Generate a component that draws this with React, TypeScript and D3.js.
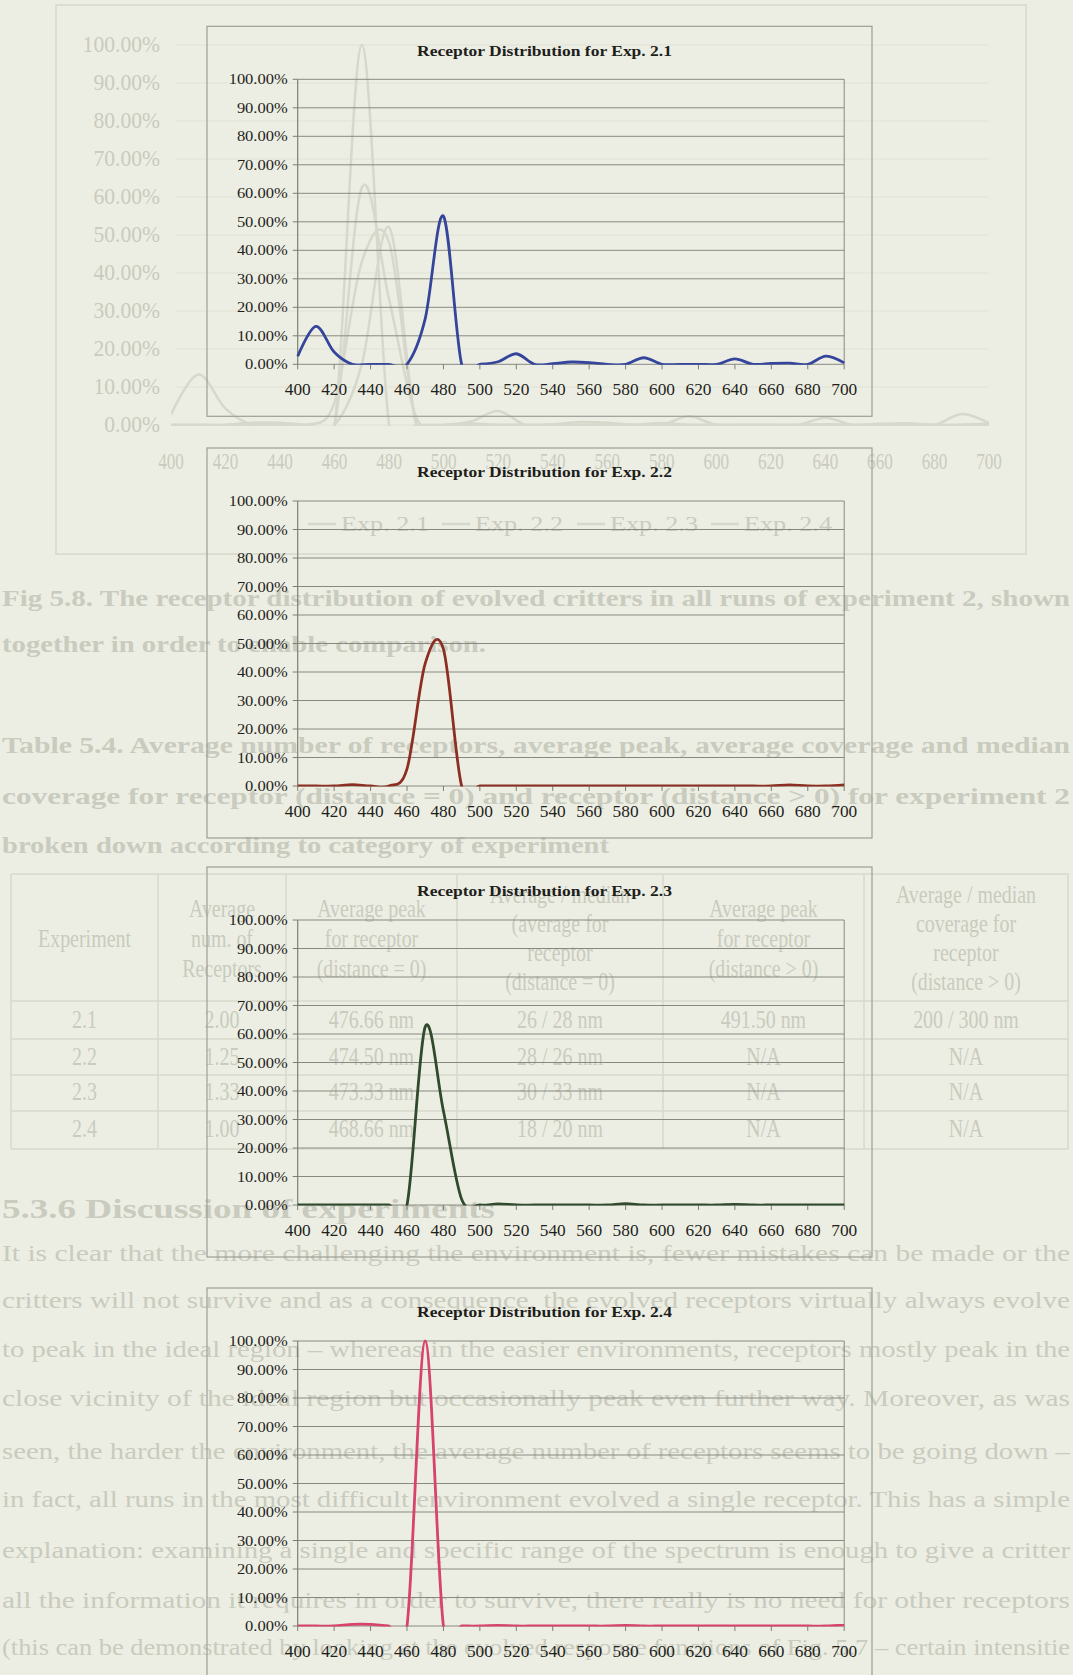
import React from 'react';
import * as d3 from 'd3';

// ---------------- DATA ----------------
const wavelengths = [400, 410, 420, 430, 440, 450, 460, 470, 480, 490, 500, 510, 520, 530, 540, 550, 560, 570, 580, 590, 600, 610, 620, 630, 640, 650, 660, 670, 680, 690, 700];
const exp21 = [2.8, 13.3, 4.3, 0, 0, 0, 0, 16, 52, 0, 0, 0.9, 3.7, 0, 0.2, 0.8, 0.6, 0, 0, 2.3, 0, 0, 0, 0, 1.9, 0, 0.3, 0.4, 0, 2.9, 0.5];
const exp22 = [0, 0, 0, 0.5, 0, 0, 6, 43, 48, 0, 0, 0, 0, 0, 0, 0, 0, 0, 0, 0, 0, 0, 0, 0, 0, 0, 0, 0.4, 0, 0, 0.4];
const exp23 = [0, 0, 0, 0, 0, 0, 0, 62.5, 33, 2, 0, 0.4, 0, 0, 0, 0, 0, 0, 0.5, 0, 0, 0, 0, 0, 0.2, 0, 0, 0, 0, 0, 0];
const exp24 = [0, 0, 0, 0.6, 0.6, 0, 0, 100, 0, 0, 0, 0.2, 0, 0, 0, 0, 0, 0, 0.2, 0, 0, 0, 0, 0, 0, 0, 0, 0, 0, 0, 0.3];
const seriesNames = ['Exp. 2.1', 'Exp. 2.2', 'Exp. 2.3', 'Exp. 2.4'];
const seriesValues = [exp21, exp22, exp23, exp24];
const chartTitles = seriesNames.map((n) => `Receptor Distribution for ${n}`);
const yTickValues = [0, 10, 20, 30, 40, 50, 60, 70, 80, 90, 100];
const xTickValues = [400, 420, 440, 460, 480, 500, 520, 540, 560, 580, 600, 620, 640, 660, 680, 700];

// ghost (bleed-through) text of the scanned page
const captionLines = [
  'Fig 5.8. The receptor distribution of evolved critters in all runs of experiment 2, shown',
  'together in order to enable comparison.',
];
const tableCaptionLines = [
  'Table 5.4. Average number of receptors, average peak, average coverage and median',
  'coverage for receptor (distance = 0) and receptor (distance > 0) for experiment 2',
  'broken down according to category of experiment',
];
const tableHeaders = [
  ['Experiment'],
  ['Average', 'num. of', 'Receptors'],
  ['Average peak', 'for receptor', '(distance = 0)'],
  ['Average / median', '(average for', 'receptor', '(distance = 0)'],
  ['Average peak', 'for receptor', '(distance > 0)'],
  ['Average / median', 'coverage for', 'receptor', '(distance > 0)'],
];
const tableRows = [
  ['2.1', '2.00', '476.66 nm', '26 / 28 nm', '491.50 nm', '200 / 300 nm'],
  ['2.2', '1.25', '474.50 nm', '28 / 26 nm', 'N/A', 'N/A'],
  ['2.3', '1.33', '473.33 nm', '30 / 33 nm', 'N/A', 'N/A'],
  ['2.4', '1.00', '468.66 nm', '18 / 20 nm', 'N/A', 'N/A'],
];
const sectionHeading = '5.3.6 Discussion of experiments';
const paragraphLines = [
  'It is clear that the more challenging the environment is, fewer mistakes can be made or the',
  'critters will not survive and as a consequence, the evolved receptors virtually always evolve',
  'to peak in the ideal region \u2013 whereas in the easier environments, receptors mostly peak in the',
  'close vicinity of the ideal region but occasionally peak even further way. Moreover, as was',
  'seen, the harder the environment, the average number of receptors seems to be going down \u2013',
  'in fact, all runs in the most difficult environment evolved a single receptor. This has a simple',
  'explanation: examining a single and specific range of the spectrum is enough to give a critter',
  'all the information it requires in order to survive, there really is no need for other receptors',
  '(this can be demonstrated by looking at the evolved response functions of Fig. 5.7 \u2013 certain intensitie',
];

// ---------------- STYLE / LAYOUT ----------------
const W = 1073;
const H = 1675;
const PAGE_BG = '#edeee3';
const GHOST_LINE = '#d6d8cc';
const GHOST_TEXT = '#c8cbbe';
const seriesColors = ['#35459b', '#8c2f22', '#2f4a2c', '#d8436d'];
const chartTops = [79.3, 501, 920, 1341];
const PLOT_H = 285;
const PLOT_L = 297.7;
const PLOT_R = 844.2;
const FRAME_L = 207;
const FRAME_R = 872;
const FONT = "'Liberation Serif', 'Times New Roman', serif";

const curve = d3.curveCatmullRom.alpha(0);

function ReceptorChart({ idx }: { idx: number }) {
  const top = chartTops[idx];
  const bottom = top + PLOT_H;
  const x = d3.scaleLinear().domain([400, 700]).range([PLOT_L, PLOT_R]);
  const y = d3.scaleLinear().domain([0, 100]).range([bottom, top]);
  const values = seriesValues[idx];
  const pts: [number, number][] = wavelengths.map((w, i) => [w, values[i]]);
  const line = d3
    .line<[number, number]>()
    .x((d) => x(d[0]))
    .y((d) => y(d[1]))
    .curve(curve);
  const clipId = `plotclip-${idx}`;
  const gridColor = '#878980';
  return (
    <g>
      <rect x={FRAME_L} y={top - 53} width={FRAME_R - FRAME_L} height={PLOT_H + 105} fill="none" stroke="#9c9e95" strokeWidth={1.2} />
      <text
        transform={`translate(${(FRAME_L + FRAME_R) / 2 + 5},${top - 23.6}) scale(1.13,1)`}
        textAnchor="middle"
        fontWeight="bold"
        fontSize={15.5}
        fill="#1e1e1c"
      >
        {chartTitles[idx]}
      </text>
      {yTickValues.map((v) => (
        <line key={`g${v}`} x1={PLOT_L} x2={PLOT_R} y1={y(v)} y2={y(v)} stroke={gridColor} strokeWidth={1} />
      ))}
      <line x1={PLOT_R} x2={PLOT_R} y1={top} y2={bottom} stroke={gridColor} strokeWidth={1} />
      <line x1={PLOT_L} x2={PLOT_L} y1={top} y2={bottom} stroke="#7c7e76" strokeWidth={1.2} />
      {yTickValues.map((v) => (
        <g key={`yt${v}`}>
          <line x1={PLOT_L - 5} x2={PLOT_L} y1={y(v)} y2={y(v)} stroke="#7c7e76" strokeWidth={1} />
          <text transform={`translate(${PLOT_L - 10},${y(v) + 5}) scale(1.1,1)`} textAnchor="end" fontSize={15} fill="#1e1e1c">
            {`${v.toFixed(2)}%`}
          </text>
        </g>
      ))}
      {xTickValues.map((v) => (
        <g key={`xt${v}`}>
          <line x1={x(v)} x2={x(v)} y1={bottom} y2={bottom + 5} stroke="#7c7e76" strokeWidth={1} />
          <text transform={`translate(${x(v)},${bottom + 31}) scale(1.05,1)`} textAnchor="middle" fontSize={16.5} fill="#1e1e1c">
            {v}
          </text>
        </g>
      ))}
      <clipPath id={clipId}>
        <rect x={PLOT_L - 2} y={top - 10} width={PLOT_R - PLOT_L + 4} height={PLOT_H + 10.5} />
      </clipPath>
      <path d={line(pts) || ''} fill="none" stroke={seriesColors[idx]} strokeWidth={2.8} strokeLinejoin="round" clipPath={`url(#${clipId})`} />
    </g>
  );
}

function GhostLayer() {
  // faint combined chart (Fig 5.8) showing through the scan
  const gx = d3.scaleLinear().domain([400, 700]).range([171, 989]);
  const gy = d3.scaleLinear().domain([0, 100]).range([425, 45]);
  const gline = d3
    .line<[number, number]>()
    .x((d) => gx(d[0]))
    .y((d) => gy(d[1]))
    .curve(curve);
  const tableCols = [11, 158, 286, 457, 663, 864, 1068];
  const tableHLines = [874, 1001, 1039, 1075, 1111, 1149];
  const rowCenters = [1021, 1058, 1093, 1130];
  const paraCenters = [1253, 1300, 1349, 1398, 1451, 1499, 1550, 1600, 1647];
  const legendStarts = [308, 442, 577, 711];
  return (
    <g>
      <rect x={56} y={5} width={970} height={549} fill="none" stroke={GHOST_LINE} strokeWidth={1.5} />
      {yTickValues.map((v) => (
        <g key={`gg${v}`}>
          <line x1={176} x2={989} y1={gy(v)} y2={gy(v)} stroke={GHOST_LINE} strokeWidth={1} opacity={0.5} />
          <text transform={`translate(160,${gy(v) + 7}) scale(1.08,1.12)`} textAnchor="end" fontSize={20} fill={GHOST_TEXT}>
            {`${v.toFixed(2)}%`}
          </text>
        </g>
      ))}
      {xTickValues.map((v) => (
        <text key={`gx${v}`} transform={`translate(${gx(v)},${469}) scale(0.9,1.2)`} textAnchor="middle" fontSize={19} fill={GHOST_TEXT}>
          {v}
        </text>
      ))}
      <clipPath id="ghostclip">
        <rect x={171} y={30} width={818} height={396} />
      </clipPath>
      <g clipPath="url(#ghostclip)">
        {seriesValues.map((vals, i) => (
          <path
            key={`gl${i}`}
            d={gline(wavelengths.map((w, j) => [w, vals[j]] as [number, number])) || ''}
            fill="none"
            stroke={GHOST_LINE}
            strokeWidth={2.5}
          />
        ))}
      </g>
      {seriesNames.map((n, i) => (
        <g key={`lg${i}`}>
          <line x1={legendStarts[i]} x2={legendStarts[i] + 28} y1={524} y2={524} stroke={GHOST_LINE} strokeWidth={2.5} />
          <text x={legendStarts[i] + 33} y={531} fontSize={20} fill={GHOST_TEXT} textLength={88} lengthAdjust="spacingAndGlyphs">
            {n}
          </text>
        </g>
      ))}
      {/* caption */}
      <text x={2} y={606} fontSize={24} fontWeight="bold" fill={GHOST_TEXT} textLength={1068} lengthAdjust="spacingAndGlyphs">
        {captionLines[0]}
      </text>
      <text x={2} y={652} fontSize={24} fontWeight="bold" fill={GHOST_TEXT} textLength={484} lengthAdjust="spacingAndGlyphs">
        {captionLines[1]}
      </text>
      {tableCaptionLines.map((t, i) => (
        <text
          key={`tc${i}`}
          x={2}
          y={[753, 804, 853][i]}
          fontSize={24}
          fontWeight="bold"
          fill={GHOST_TEXT}
          textLength={i < 2 ? 1068 : 607}
          lengthAdjust="spacingAndGlyphs"
        >
          {t}
        </text>
      ))}
      {/* table */}
      {tableHLines.map((yy) => (
        <line key={`th${yy}`} x1={11} x2={1068} y1={yy} y2={yy} stroke={GHOST_LINE} strokeWidth={1.5} />
      ))}
      {tableCols.map((xx) => (
        <line key={`tv${xx}`} x1={xx} x2={xx} y1={874} y2={1149} stroke={GHOST_LINE} strokeWidth={1.5} />
      ))}
      {tableHeaders.map((lines, c) => {
        const cx = (tableCols[c] + tableCols[c + 1]) / 2;
        const centers = lines.length === 1 ? [940] : lines.length === 3 ? [910, 940, 970] : [896, 925, 954, 983];
        return lines.map((t, k) => (
          <text key={`hd${c}-${k}`} transform={`translate(${cx},${centers[k] + 7}) scale(0.95,1.15)`} textAnchor="middle" fontSize={21} fill={GHOST_TEXT}>
            {t}
          </text>
        ));
      })}
      {tableRows.map((row, r) =>
        row.map((t, c) => (
          <text
            key={`td${r}-${c}`}
            transform={`translate(${(tableCols[c] + tableCols[c + 1]) / 2},${rowCenters[r] + 7}) scale(0.95,1.15)`}
            textAnchor="middle"
            fontSize={21}
            fill={GHOST_TEXT}
          >
            {t}
          </text>
        ))
      )}
      <text x={2} y={1218} fontSize={28} fontWeight="bold" fill={GHOST_TEXT} textLength={493} lengthAdjust="spacingAndGlyphs">
        {sectionHeading}
      </text>
      {paragraphLines.map((t, i) => (
        <text key={`p${i}`} x={2} y={paraCenters[i] + 8} fontSize={24} fill={GHOST_TEXT} textLength={1068} lengthAdjust="spacingAndGlyphs">
          {t}
        </text>
      ))}
    </g>
  );
}

export default function App() {
  return (
    <div style={{ position: 'absolute', left: 0, top: 0, width: W, height: H, overflow: 'hidden' }}>
      <svg width={W} height={H} viewBox={`0 0 ${W} ${H}`} style={{ display: 'block', fontFamily: FONT }}>
        <rect x={0} y={0} width={W} height={H} fill={PAGE_BG} />
        <GhostLayer />
        {seriesValues.map((_, i) => (
          <ReceptorChart key={i} idx={i} />
        ))}
      </svg>
    </div>
  );
}
